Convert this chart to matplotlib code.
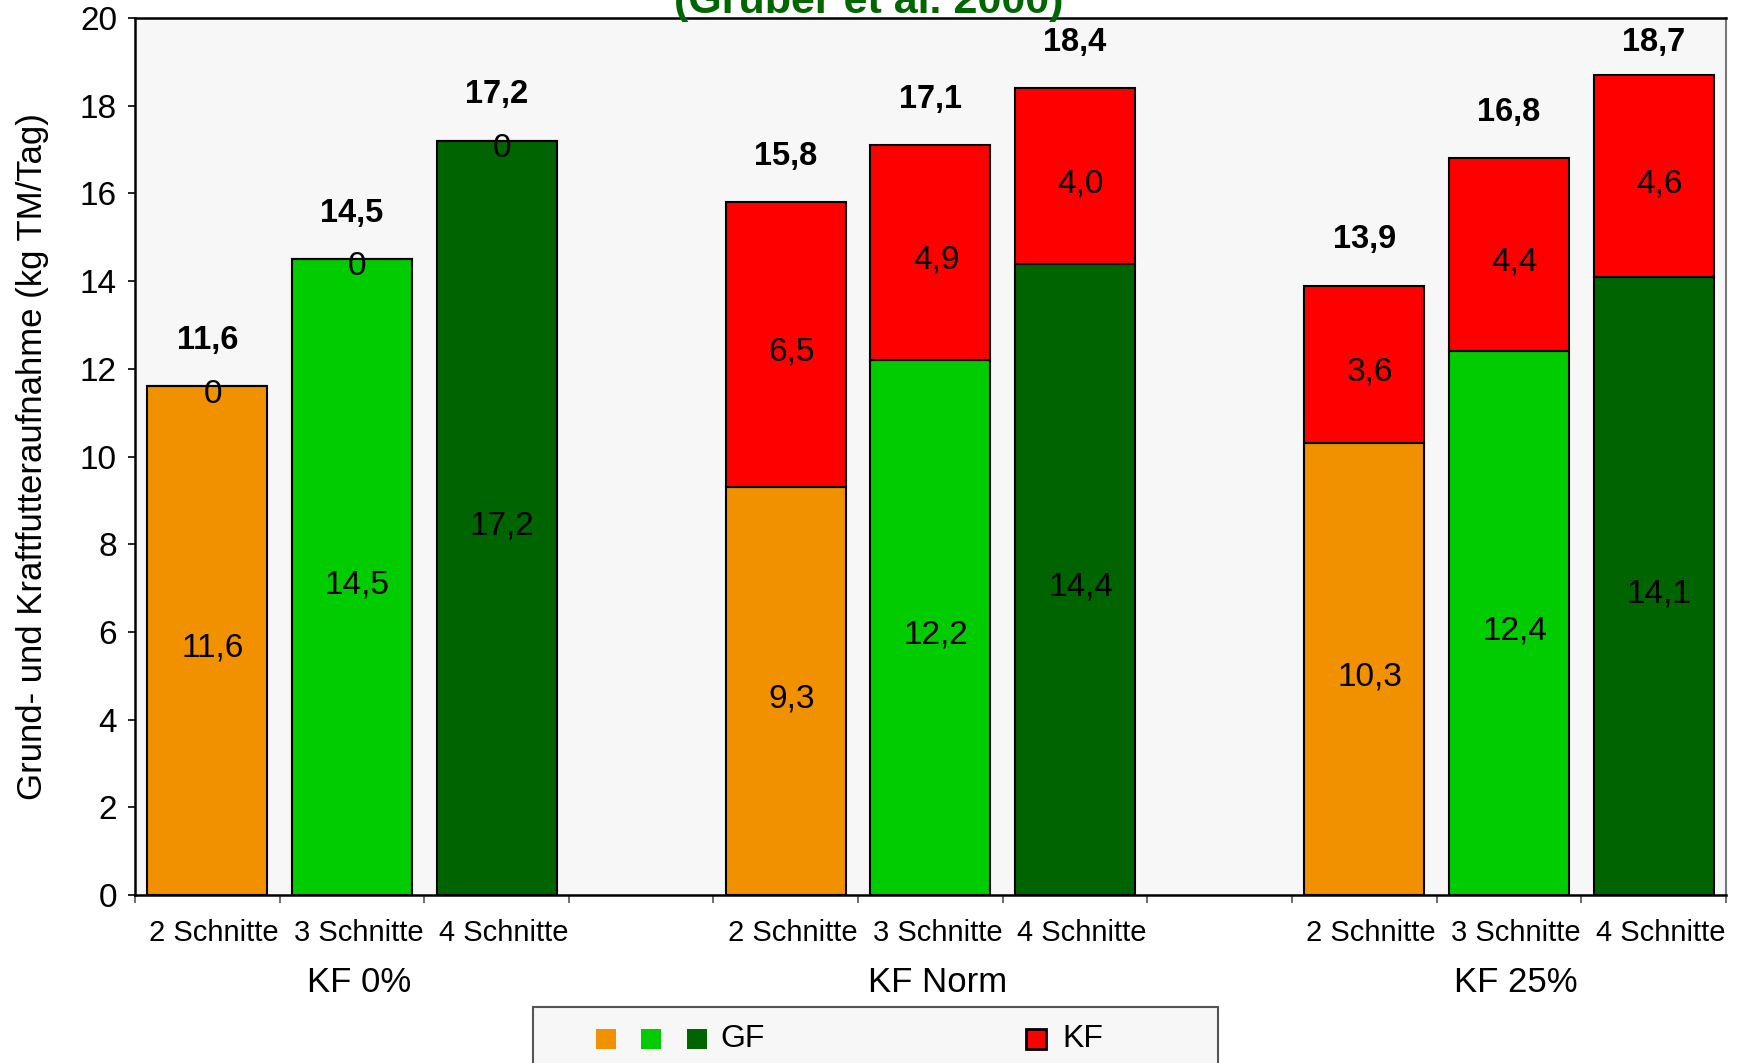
import matplotlib
matplotlib.use("Agg")
import matplotlib.pyplot as plt
from matplotlib.patches import Rectangle
from matplotlib.transforms import blended_transform_factory, offset_copy, ScaledTranslation

plt.rcParams['font.family'] = ['Liberation Sans', 'DejaVu Sans']

# Daily intake per cutting regime and concentrate level (kg DM/day)
groups = ["KF 0%", "KF Norm", "KF 25%"]
cuts = ["2 Schnitte", "3 Schnitte", "4 Schnitte"]
gf_values = [11.6, 14.5, 17.2, 9.3, 12.2, 14.4, 10.3, 12.4, 14.1]
kf_values = [0, 0, 0, 6.5, 4.9, 4.0, 3.6, 4.4, 4.6]
total_values = [11.6, 14.5, 17.2, 15.8, 17.1, 18.4, 13.9, 16.8, 18.7]
yticks = [0, 2, 4, 6, 8, 10, 12, 14, 16, 18, 20]

cut_colors = ["#F29100", "#00CC00", "#006400"]
kf_color = "#FF0000"
panel_bg = "#F7F7F7"

def fmt(v):
    return (f"{v:.1f}" if v else "0").replace(".", ",")

fig = plt.figure(figsize=(17.39, 10.63), dpi=100)
ax = fig.add_axes([0.0776, 0.158, 0.9149, 0.825])
ax.set_facecolor(panel_bg)

# three bars per group, one empty slot between groups
positions = [g * 4 + c for g in range(len(groups)) for c in range(len(cuts))]
colors = [cut_colors[c] for g in range(len(groups)) for c in range(len(cuts))]
width = 0.83

ax.bar(positions, gf_values, width, color=colors, edgecolor="black", linewidth=1.5, zorder=2)
ax.bar(positions, kf_values, width, bottom=gf_values, color=kf_color,
       edgecolor="black", linewidth=1.5, zorder=2)

inner = offset_copy(ax.transData, fig=fig, x=4, y=-5.5, units="points")
for x, gf, kf, tot in zip(positions, gf_values, kf_values, total_values):
    ax.text(x, gf / 2, fmt(gf), ha="center", va="center", fontsize=24,
            transform=inner, zorder=3)
    ax.text(x, gf + kf / 2, fmt(kf), ha="center", va="center", fontsize=24,
            transform=inner, zorder=3)
    ax.text(x, min(tot + 1.05, 19.45), fmt(tot), ha="center", va="center", fontsize=23.5,
            fontweight="bold", zorder=3)

ax.set_xlim(-0.5, 10.5)
ax.set_ylim(0, 20)
ax.set_yticks(yticks)
ax.set_yticklabels([str(t) for t in yticks])
ax.tick_params(axis="y", direction="out", length=5, width=1.2, labelsize=24, pad=8)

ax.set_xticks(positions)
ax.set_xticklabels(cuts * len(groups))
ax.set_xticks([b - 0.5 for b in range(12)], minor=True)
ax.tick_params(axis="x", which="major", length=0, labelsize=21, pad=17)
ax.tick_params(axis="x", which="minor", direction="out", length=6, width=1.2, color="#555555")
shift = ScaledTranslation(5 / 72, 0, fig.dpi_scale_trans)
for lbl in ax.get_xticklabels():
    lbl.set_transform(lbl.get_transform() + shift)

trans = blended_transform_factory(ax.transData, ax.transAxes) + shift
for g, name in enumerate(groups):
    ax.text(g * 4 + 1, -0.1, name, transform=trans, ha="center", va="center", fontsize=25)

ax.set_ylabel("Grund- und Kraftfutteraufnahme (kg TM/Tag)", fontsize=25)
ax.yaxis.set_label_coords(-0.054, 0.5)

for side in ("left", "bottom", "top"):
    ax.spines[side].set_color("black")
    ax.spines[side].set_linewidth(1.8)
ax.spines["right"].set_color("#777777")
ax.spines["right"].set_linewidth(1.5)

fig.text(0.4995, 1.0 - 13 / 1063, "(Gruber et al. 2000)", ha="center", va="baseline",
         fontsize=31, fontweight="bold", color="#006600")

# legend panel along the lower edge
W, H = 1739.0, 1063.0
fig.add_artist(Rectangle((533 / W, -0.05), (1218 - 533) / W, 0.05 + (1063 - 1007) / H,
                         transform=fig.transFigure, facecolor=panel_bg,
                         edgecolor="#555555", linewidth=1.5))
sq = 20
for i, x0 in enumerate([596, 641, 687]):
    fig.add_artist(Rectangle((x0 / W, 1 - 1049 / H), sq / W, sq / H, transform=fig.transFigure,
                             facecolor=cut_colors[i], edgecolor="none"))
fig.text(720 / W, 1 - 1039 / H, "GF", ha="left", va="center", fontsize=23)
fig.add_artist(Rectangle((1026 / W, 1 - 1049 / H), sq / W, sq / H, transform=fig.transFigure,
                         facecolor=kf_color, edgecolor="black", linewidth=2))
fig.text(1062 / W, 1 - 1039 / H, "KF", ha="left", va="center", fontsize=23)

fig.savefig("out.png", dpi=100)
